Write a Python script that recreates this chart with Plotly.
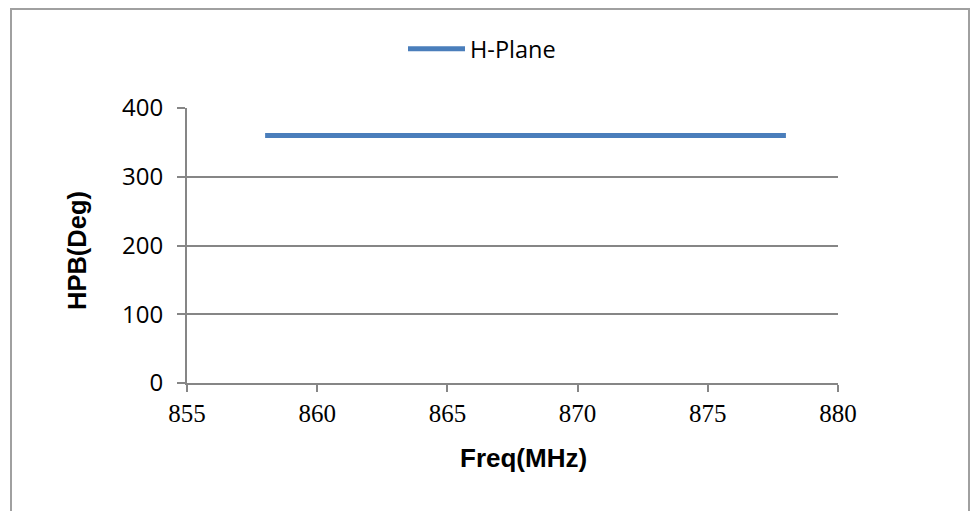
import plotly.graph_objects as go

freq_mhz = [858, 878]
hpb_deg = [360, 360]
series_name = "H-Plane"
x_ticks = [855, 860, 865, 870, 875, 880]
y_ticks = [0, 100, 200, 300, 400]
x_title = "Freq(MHz)"
y_title = "HPB(Deg)"

W, H = 971, 511
L, R, T, B = 187, 838, 108, 383  # plot area in pixels

def px_x(p):
    return (p - L) / (R - L)

def px_y(p):
    return (B - p) / (B - T)

fig = go.Figure()
fig.add_trace(go.Scatter(
    x=freq_mhz, y=hpb_deg, mode="lines", name=series_name,
    line=dict(color="#4A7EBB", width=5),
))

grey = "#868686"
serif = "Liberation Serif, Times New Roman, DejaVu Serif, serif"
fig.update_layout(
    width=W, height=H,
    margin=dict(l=L, r=W - R, t=T, b=H - B, pad=0),
    paper_bgcolor="white", plot_bgcolor="white",
    showlegend=True,
    legend=dict(
        x=px_x(403), y=px_y(27), xanchor="left", yanchor="top",
        orientation="h", itemwidth=57,
        font=dict(family="Open Sans", size=23.5, color="black"),
        bgcolor="rgba(0,0,0,0)",
    ),
    xaxis=dict(
        range=[855, 880], tickvals=x_ticks, ticktext=[str(v) for v in x_ticks],
        showgrid=False, zeroline=False,
        showline=True, linecolor=grey, linewidth=2,
        ticks="outside", ticklen=7, tickcolor=grey, tickwidth=2,
        tickfont=dict(family=serif, size=25, color="black"),
    ),
    yaxis=dict(
        range=[0, 400], tickvals=y_ticks, ticktext=[str(v) for v in y_ticks],
        showgrid=True, gridcolor=grey, gridwidth=2, zeroline=False,
        showline=True, linecolor=grey, linewidth=2,
        ticks="outside", ticklen=8, tickcolor=grey, tickwidth=2,
        ticklabelstandoff=9,
        tickfont=dict(family="Open Sans", size=24, color="black"),
    ),
)

fig.add_annotation(text=f"<b>{x_title}</b>", xref="paper", yref="paper",
                   x=px_x(523.5), y=px_y(458), xanchor="center", yanchor="middle",
                   showarrow=False,
                   font=dict(family="Liberation Sans", size=26, color="black"))
fig.add_annotation(text=f"<b>{y_title}</b>", xref="paper", yref="paper",
                   x=px_x(77), y=px_y(251), xanchor="center", yanchor="middle",
                   textangle=-90, showarrow=False,
                   font=dict(family="Liberation Sans", size=25.5, color="black"))

# chart border
fig.add_shape(type="rect", xref="paper", yref="paper",
              x0=px_x(11), x1=px_x(969), y0=px_y(520), y1=px_y(9),
              line=dict(color="#a0a0a0", width=2), layer="below")

fig.write_html("out.html", config={"displayModeBar": False},
               post_script="document.body.style.margin='0';")
